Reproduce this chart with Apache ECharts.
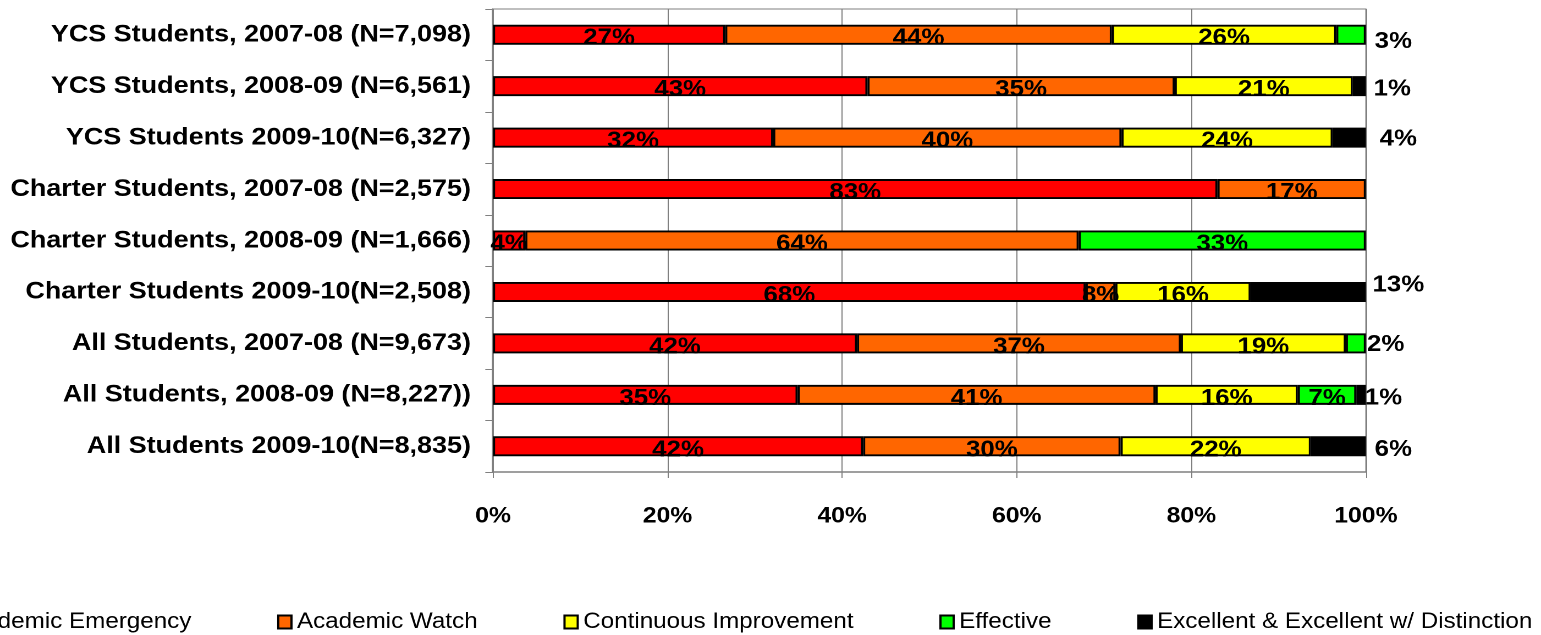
<!DOCTYPE html>
<html>
<head>
<meta charset="utf-8">
<script src="https://cdn.jsdelivr.net/npm/echarts@6/dist/echarts.min.js"></script>
<style>
html,body{margin:0;padding:0;background:#fff;overflow:hidden;width:1541px;height:635px;}
#chart{width:1401px;height:635px;transform:scaleX(1.09993);transform-origin:0 0;}
</style>
</head>
<body>
<div id="chart"></div>
<script>
// ---- data ----
const categories = [
  "YCS Students, 2007-08 (N=7,098)",
  "YCS Students, 2008-09 (N=6,561)",
  "YCS Students 2009-10(N=6,327)",
  "Charter Students, 2007-08 (N=2,575)",
  "Charter Students, 2008-09 (N=1,666)",
  "Charter Students 2009-10(N=2,508)",
  "All Students, 2007-08 (N=9,673)",
  "All Students, 2008-09 (N=8,227))",
  "All Students 2009-10(N=8,835)"
];
const seriesNames = ["Academic Emergency","Academic Watch","Continuous Improvement","Effective","Excellent & Excellent w/ Distinction"];
// segment widths (percent of bar)
const emergency   = [26.6, 42.9, 32.1, 83.0, 3.7, 67.9, 41.7, 34.9, 42.4];
const watch       = [44.3, 35.2, 39.9, 17.0, 63.4, 3.4, 37.1, 41.0, 29.5];
const improvement = [25.7, 20.4, 24.2, null, null, 15.5, 18.9, 16.3, 21.8];
const effective   = [3.4, null, null, null, 32.9, null, 2.3, 6.7, null];
const excellent   = [null, 1.5, 3.8, null, null, 13.2, null, 1.1, 6.3];
// printed percentage labels
const emergencyLbl   = [27, 43, 32, 83, 4, 68, 42, 35, 42];
const watchLbl       = [44, 35, 40, 17, 64, 8, 37, 41, 30];
const improvementLbl = [26, 21, 24, null, null, 16, 19, 16, 22];
const effectiveLbl   = [3, null, null, null, 33, null, 2, 7, null];
const excellentLbl   = [null, 1, 4, null, null, 13, null, 1, 6];
const xTicks = [0, 20, 40, 60, 80, 100];

// ---- styles ----
const colors = ["#FF0000", "#FF6600", "#FFFF00", "#00FF00", "#000000"];
const FONT = "'Liberation Sans', Arial, Helvetica, sans-serif";
// outside (right of bar) label nudges per row [dx, dy]
const outsideNudge = {0:[8,7],1:[7,3],2:[12.5,1.5],5:[6,-7],6:[1,1],7:[-1,3],8:[8,3]};

const values = [emergency, watch, improvement, effective, excellent];
const labels = [emergencyLbl, watchLbl, improvementLbl, effectiveLbl, excellentLbl];

function buildData(si) {
  return values[si].map((v, i) => {
    const lbl = labels[si][i];
    if (v == null) return {value: null};
    const isLast = values.slice(si + 1).every(arr => arr[i] == null);
    const outside = isLast && (si === 4 || (si === 3 && v < 5));
    const item = {value: v};
    if (lbl == null) {
      item.label = {show: false};
    } else if (outside) {
      const n = outsideNudge[i] || [6, 2];
      item.label = {show: true, position: 'right', distance: 0, offset: n, formatter: lbl + '%'};
    } else {
      item.label = {show: true, position: 'inside', offset: [0, 3.5], formatter: lbl + '%'};
    }
    return item;
  });
}

const series = seriesNames.map((name, si) => ({
  name: name,
  type: 'bar',
  stack: 'total',
  barWidth: 20,
  itemStyle: {color: colors[si], borderColor: '#000', borderWidth: 1.9},
  label: {color: '#000', fontSize: 23.5, fontWeight: 'bold', fontFamily: FONT},
  emphasis: {disabled: true},
  data: buildData(si)
}));

const chart = echarts.init(document.getElementById('chart'), null, {devicePixelRatio: 2});
chart.setOption({
  animation: false,
  backgroundColor: '#fff',
  grid: {left: 448.2, right: 159.2, top: 9, bottom: 163, show: true, borderColor: '#808080', borderWidth: 1},
  legend: {
    left: -63, top: 606, width: 2200,
    itemWidth: 12, itemHeight: 13, itemGap: 78,
    icon: 'rect',
    textStyle: {fontSize: 22, color: '#000', fontFamily: FONT},
    data: seriesNames
  },
  xAxis: {
    type: 'value', min: 0, max: 100, interval: 20,
    axisLine: {show: true, lineStyle: {color: '#808080', width: 1.5}},
    axisTick: {show: true, length: 6, lineStyle: {color: '#808080'}},
    splitLine: {show: true, lineStyle: {color: '#808080', width: 1}},
    axisLabel: {
      margin: 33, color: '#000', fontSize: 22.5, fontWeight: 'bold', fontFamily: FONT,
      formatter: v => xTicks.includes(v) ? v + '%' : ''
    }
  },
  yAxis: {
    type: 'category', inverse: true, data: categories,
    axisLine: {show: true, lineStyle: {color: '#808080', width: 1.5}},
    axisTick: {show: true, length: 7, lineStyle: {color: '#808080'}},
    splitLine: {show: false},
    axisLabel: {margin: 20, color: '#000', fontSize: 24.5, fontWeight: 'bold', fontFamily: FONT}
  },
  series: series
});
</script>
</body>
</html>
